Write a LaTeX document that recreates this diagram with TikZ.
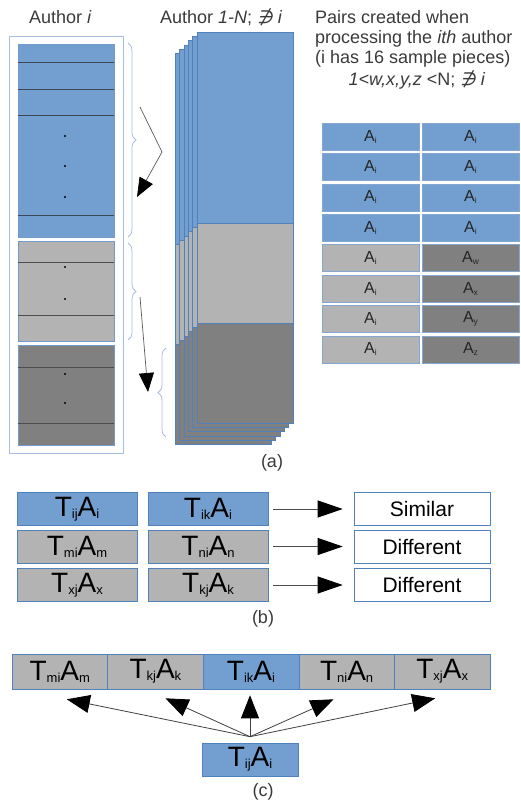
\documentclass[tikz,border=0pt]{standalone}
\usepackage{fontspec}
\setmainfont{Liberation Sans}
\newfontfamily\djv[FakeSlant=0.2]{DejaVu Sans}
\usetikzlibrary{arrows.meta,decorations.pathreplacing,calc}
\definecolor{bl}{HTML}{729FCF}
\definecolor{lg}{HTML}{B3B3B3}
\definecolor{dg}{HTML}{808080}
\definecolor{bd}{HTML}{4F81BD}
\definecolor{lb}{HTML}{A7BEDD}
\definecolor{tx}{HTML}{3A3A3A}
\definecolor{ln}{HTML}{3C4656}
\newcommand\TA[2]{{\fontsize{28}{28}\selectfont T}\raisebox{-2pt}{\fontsize{13}{13}\selectfont #1}{\fontsize{28}{28}\selectfont A}\raisebox{-2pt}{\fontsize{13}{13}\selectfont #2}}
\newcommand\Asub[1]{{\fontsize{16}{16}\selectfont A}\raisebox{-2pt}{\fontsize{8.5}{8.5}\selectfont #1}}
\tikzset{
  lbl/.style={text=tx, font=\fontsize{18}{20}\selectfont, inner sep=0pt},
  tcell/.style={draw=bd!70, line width=0.5pt, minimum width=97pt, minimum height=27pt, inner sep=0pt, text=black!85},
  bbox/.style={draw=bd, line width=0.6pt, minimum width=120pt, minimum height=33pt, inner sep=0pt, text=black},
  rbox/.style={draw=bd, line width=0.6pt, fill=white, minimum width=136pt, minimum height=33pt, inner sep=0pt, text=black, font=\fontsize{21}{21}\selectfont},
  cbox/.style={draw=bd, line width=0.6pt, minimum width=95.6pt, minimum height=35pt, inner sep=0pt, text=black},
  arra/.style={draw=black!65, line width=0.7pt, -{Triangle[length=19pt,width=15pt,color=black,fill=black]}},
  arrb/.style={draw=black!70, line width=0.9pt, -{Triangle[length=25pt,width=17pt,color=black,fill=black]}},
  arrc/.style={draw=black!75, line width=0.8pt, -{Triangle[length=23pt,width=18pt,color=black,fill=black]}},
  brc/.style={draw=lb, line width=0.8pt, decorate, decoration={brace, amplitude=8pt}},
  sep/.style={draw=ln, line width=0.9pt},
  sepg/.style={draw=black!70, line width=0.9pt},
}
\begin{document}
\begin{tikzpicture}[x=1pt,y=1pt]
\useasboundingbox (0,0) rectangle (521,-803);

% ---------- (a) headings
\node[lbl, anchor=base west] (hA) at (29,-23.3) {Author \textit{i}};
\node[lbl, anchor=base west] (hB) at (160,-23.3) {Author \textit{1-N}; {\djv ∌} \textit{i}};
\node[lbl, anchor=base west] (h1) at (315,-23.3) {Pairs created when};
\node[lbl, anchor=base west] (h2) at (315,-43.3) {processing the \textit{ith} author};
\node[lbl, anchor=base west] (h3) at (315,-63.3) {(i has 16 sample pieces)};
\node[lbl, anchor=base] (h4) at (417,-85.5) {\textit{1<w,x,y,z} <N; {\djv ∌} \textit{i}};

% ---------- Author i column
\draw[lb, line width=0.8pt] (9,-36) rectangle (123,-453);
\fill[bl] (18,-44) rectangle (114,-237);
\draw[bd!80, line width=0.5pt] (18,-44) rectangle (114,-237);
\foreach \y in {62,89,115,215} \draw[sep] (18,-\y) -- (114,-\y);
\foreach \y in {136,166,197} \fill[black] (65,-\y) circle (1.1);
\fill[lg] (18,-241) rectangle (114,-341);
\draw[bd!80, line width=0.5pt] (18,-241) rectangle (114,-341);
\foreach \y in {262,315} \draw[sepg] (18,-\y) -- (114,-\y);
\foreach \y in {267,299} \fill[black] (65,-\y) circle (1.1);
\fill[dg] (18,-345) rectangle (114,-445);
\draw[bd!80, line width=0.5pt] (18,-345) rectangle (114,-445);
\foreach \y in {367,423} \draw[sepg] (18,-\y) -- (114,-\y);
\foreach \y in {374,403} \fill[black] (65,-\y) circle (1.1);

% braces
\draw[brc] (128,-43) -- (128,-237);
\draw[brc] (128,-243) -- (128,-340);
\draw[brc] (166,-437) -- (166,-348);

% arrows
\coordinate (a1s) at (140,-107);
\coordinate (a1m) at (162,-152);
\coordinate (a1e) at (137,-197);
\draw[arra] (a1s) -- (a1m) -- (a1e);
\coordinate (a2s) at (140,-297);
\coordinate (a2e) at (148,-392);
\draw[arra] (a2s) -- (a2e);

% stacked pages
\foreach \k in {5,4,3,2,1,0}{
  \begin{scope}[shift={(-4.4*\k,-4.3*\k)}]
    \fill[bl] (197,-32) rectangle (293,-223);
    \fill[lg] (197,-223) rectangle (293,-323);
    \fill[dg] (197,-323) rectangle (293,-423);
    \draw[bd, line width=0.5pt] (197,-32) rectangle (293,-423);
    \draw[bd, line width=0.5pt] (197,-223) -- (293,-223) (197,-323) -- (293,-323);
  \end{scope}
}

\node[lbl] (capa) at (272,-463) {(a)};

% table of pairs
\foreach \r/\lf/\rf/\rs in {0/bl/bl/i,1/bl/bl/i,2/bl/bl/i,3/bl/bl/i,4/lg/dg/w,5/lg/dg/x,6/lg/dg/y,7/lg/dg/z}{
  \node[tcell, fill=\lf] (L\r) at (370.5,-136.5-30.4*\r) {\Asub{i}};
  \node[tcell, fill=\rf] (R\r) at (470.5,-136.5-30.4*\r) {\Asub{\rs}};
}

% ---------- (b)
\node[bbox, fill=bl] (b11) at (77,-509) {\TA{ij}{i}};
\node[bbox, fill=bl] (b12) at (208,-509) {\TA{ik}{i}};
\node[rbox] (r1) at (422,-509) {Similar};
\node[bbox, fill=lg] (b21) at (77,-546.5) {\TA{mi}{m}};
\node[bbox, fill=lg] (b22) at (208,-546.5) {\TA{ni}{n}};
\node[rbox] (r2) at (422,-546.5) {Different};
\node[bbox, fill=lg] (b31) at (77,-585) {\TA{xj}{x}};
\node[bbox, fill=lg] (b32) at (208,-585) {\TA{kj}{k}};
\node[rbox] (r3) at (422,-585) {Different};
\draw[arrb, shorten <=5pt, shorten >=11pt] (b12.east) -- (r1.west);
\draw[arrb, shorten <=5pt, shorten >=11pt] (b22.east) -- (r2.west);
\draw[arrb, shorten <=5pt, shorten >=11pt] (b32.east) -- (r3.west);
\node[lbl] (capb) at (263,-619) {(b)};

% ---------- (c)
\node[cbox, fill=lg] (c1) at (59.8,-671.5) {\TA{mi}{m}};
\node[cbox, fill=lg] (c2) at (155.4,-671.5) {\TA{kj}{k}};
\node[cbox, fill=bl] (c3) at (251,-671.5) {\TA{ik}{i}};
\node[cbox, fill=lg] (c4) at (346.6,-671.5) {\TA{ni}{n}};
\node[cbox, fill=lg] (c5) at (442.2,-671.5) {\TA{xj}{x}};
\node[cbox, fill=bl, minimum width=96pt, minimum height=33pt] (c0) at (250,-759.5) {\TA{ij}{i}};
\coordinate (hub) at ($(c0.north)+(0,6)$);
\coordinate (t1) at ($(c1.south)+(7,-10)$);
\coordinate (t2) at ($(c2.south)+(10,-9)$);
\coordinate (t3) at ($(c3.south)+(-1,-6)$);
\coordinate (t4) at ($(c4.south)+(-13,-10)$);
\coordinate (t5) at ($(c5.south)+(-7,-9)$);
\foreach \t in {t1,t2,t3,t4,t5} \draw[arrc] (hub) -- (\t);
\node[lbl] (capc) at (263,-792) {(c)};
\end{tikzpicture}
\end{document}
